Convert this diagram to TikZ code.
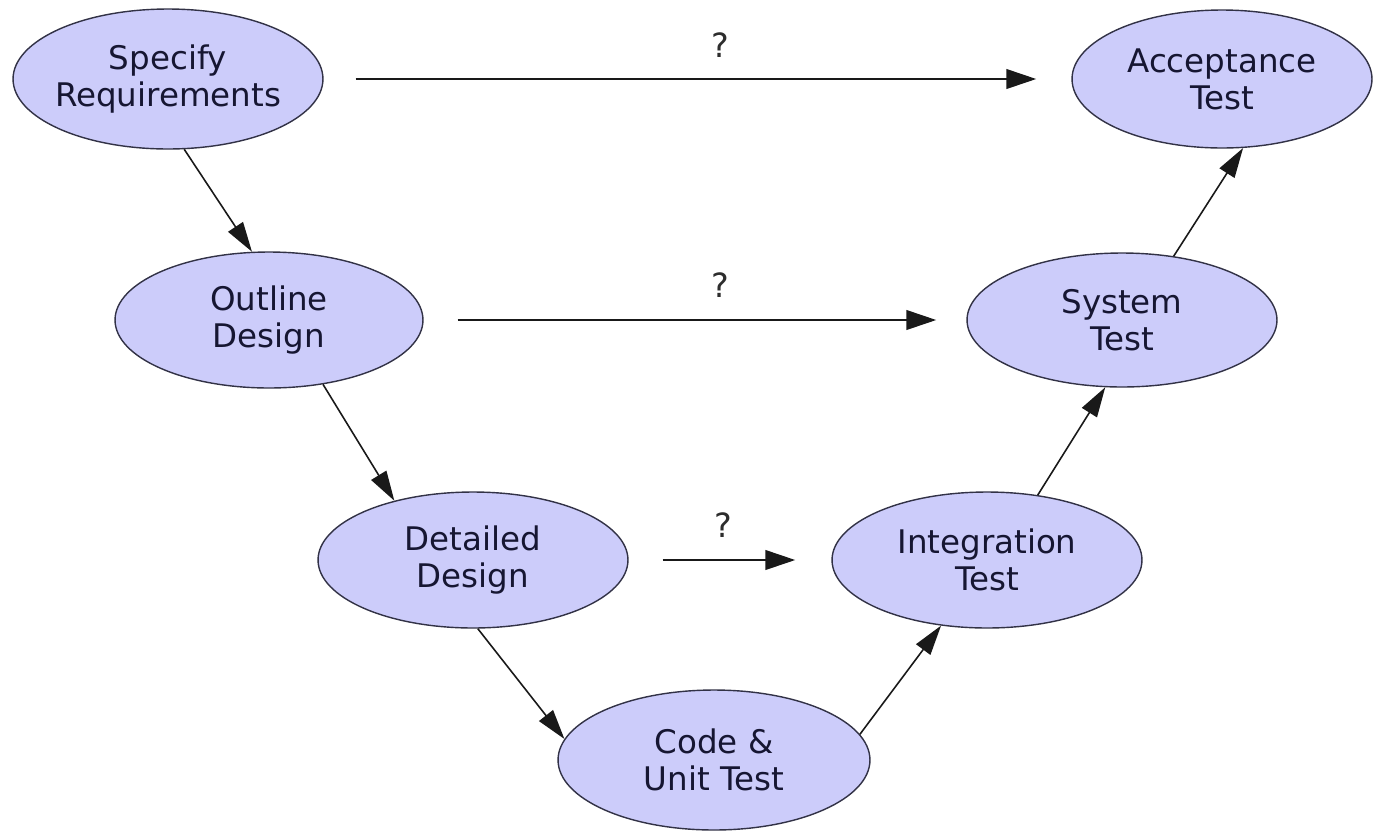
\documentclass[tikz,border=0pt]{standalone}
\usepackage{fontspec}
\setmainfont{DejaVu Sans}
\usetikzlibrary{shapes.geometric,arrows.meta}
\definecolor{nodefill}{RGB}{204,204,250}
\definecolor{nodedraw}{RGB}{50,50,70}
\definecolor{nodetext}{RGB}{22,22,50}
\definecolor{linecol}{RGB}{25,25,25}
\definecolor{qcol}{RGB}{45,45,45}
\begin{document}
\begin{tikzpicture}[x=0.02cm,y=-0.02cm,
  phase/.style={ellipse, draw=nodedraw, line width=0.8pt, fill=nodefill, inner sep=0pt},
  txt/.style={text=nodetext, align=center, inner sep=0pt, font=\fontsize{18.5}{21}\selectfont},
  flow/.style={draw=linecol, line width=0.9pt, -{Triangle[length=17pt,width=10pt]}},
  cross/.style={draw=linecol, line width=1.6pt, -{Triangle[length=17pt,width=11pt]}},
  qmark/.style={text=qcol, inner sep=0pt, font=\fontsize{19}{21}\selectfont}]
\useasboundingbox (0,0) rectangle (1373,833);
\fill[white] (0,0) rectangle (1373,833);

\node[phase, minimum width=6.2cm, minimum height=2.8cm,
      label={[txt]center:{Specify\\Requirements}}] (spec) at (168,79) {};
\node[phase, minimum width=6.0cm, minimum height=2.76cm,
      label={[txt]center:{Acceptance\\Test}}] (acc) at (1222,79) {};
\node[phase, minimum width=6.16cm, minimum height=2.72cm,
      label={[txt]center:{Outline\\Design}}] (outl) at (269,320) {};
\node[phase, minimum width=6.2cm, minimum height=2.68cm,
      label={[txt]center:{System\\Test}}] (sys) at (1122,320) {};
\node[phase, minimum width=6.2cm, minimum height=2.72cm,
      label={[txt]center:{Detailed\\Design}}] (det) at (473,560) {};
\node[phase, minimum width=6.2cm, minimum height=2.72cm,
      label={[txt]center:{Integration\\Test}}] (integ) at (987,560) {};
\node[phase, minimum width=6.24cm, minimum height=2.8cm,
      label={[txt]center:{Code \&\\Unit Test}}] (code) at (714,760) {};

\draw[flow] (spec.-77) -- (outl.104);
\draw[flow] (outl.-50) -- (det.143);
\draw[flow] (det.-86) -- (code.172);
\draw[flow] (code.10) -- (integ.235);
\draw[flow] (integ.52) -- (sys.256);
\draw[flow] (sys.51) -- (acc.-73);

\draw[cross, shorten <=0.64cm, shorten >=0.7cm] (spec.east) -- (acc.west);
\draw[cross, shorten <=0.68cm, shorten >=0.6cm] (outl.east) -- (sys.west);
\draw[cross, shorten <=0.68cm, shorten >=0.72cm] (det.east) -- (integ.west);

\node[qmark] (q1) at (720,45) {?};
\node[qmark] (q2) at (720,285) {?};
\node[qmark] (q3) at (723,525) {?};
\end{tikzpicture}
\end{document}
